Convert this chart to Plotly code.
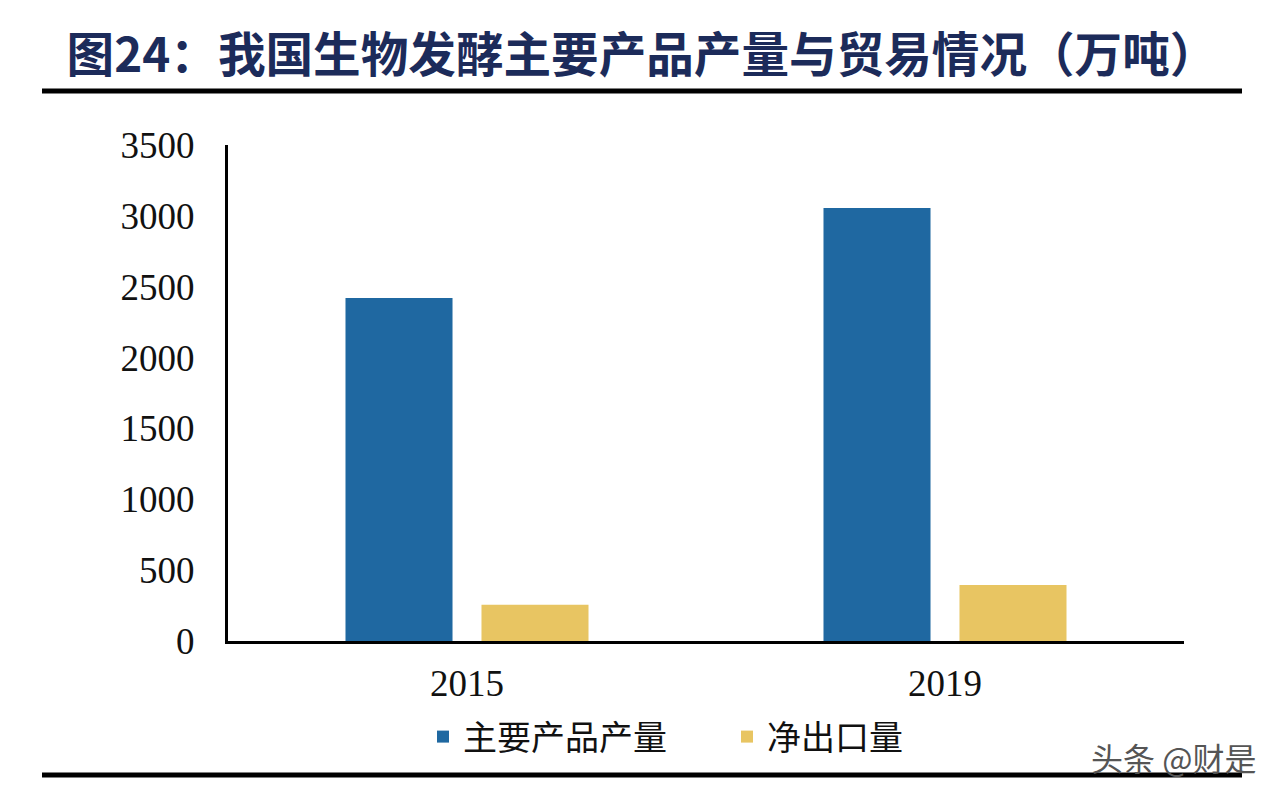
import plotly.graph_objects as go

# data
years = ['2015', '2019']
output_main = [2420, 3055]   # 主要产品产量
net_export = [255, 395]      # 净出口量
y_ticks = [0, 500, 1000, 1500, 2000, 2500, 3000, 3500]

title_txt = '图24：我国生物发酵主要产品产量与贸易情况（万吨）'

W, H = 1284, 800
OFF = 8   # page body margin in the browser
L, R, T, B = 228 - OFF, 100 + OFF, 145 - OFF, 159 + OFF
pw = W - L - R
ph = H - T - B

# helpers: page pixel -> paper coords
def px_x(x):
    return (x - OFF - L) / pw

def px_y(y):
    return (H - B - (y - OFF)) / ph

fig = go.Figure()
fig.add_trace(go.Bar(x=years, y=output_main, name='主要产品产量',
                     marker=dict(color='#1F68A1', line=dict(width=0))))
fig.add_trace(go.Bar(x=years, y=net_export, name='净出口量',
                     marker=dict(color='#E8C562', line=dict(width=0))))

fig.update_layout(
    width=W, height=H,
    margin=dict(l=L, r=R, t=T, b=B),
    paper_bgcolor='white', plot_bgcolor='white',
    barmode='group', bargap=0.431, bargroupgap=0.213,
    font=dict(family='Liberation Serif', size=37, color='#111111'),
    title=dict(text=title_txt, xref='container', yref='container',
               x=(642 - OFF) / W, y=1 - (55 - OFF) / H, xanchor='center', yanchor='middle',
               font=dict(family='Noto Sans CJK SC', size=47.6, color='#1C2B5A', weight='bold')),
    legend=dict(orientation='h', x=px_x(423), y=px_y(737), xanchor='left', yanchor='middle',
                font=dict(family='Noto Sans CJK SC', size=34, color='#111111'),
                entrywidth=259, entrywidthmode='pixels', itemwidth=30,
                bgcolor='rgba(0,0,0,0)'),
    showlegend=True,
)

fig.update_xaxes(showline=True, linecolor='black', linewidth=3, showgrid=False,
                 ticks='outside', ticklen=8, tickcolor='rgba(0,0,0,0)',
                 tickfont=dict(family='Liberation Serif', size=37))
fig.update_yaxes(range=[0, 3500], tickvals=y_ticks, tickformat='d',
                 showline=True, linecolor='black', linewidth=3, showgrid=False,
                 zeroline=False, ticks='outside', ticklen=23, tickcolor='rgba(0,0,0,0)',
                 tickfont=dict(family='Liberation Serif', size=37))

# rules above and below the chart
for yy in (91, 775):
    fig.add_shape(type='line', xref='paper', yref='paper',
                  x0=px_x(42), x1=px_x(1242), y0=px_y(yy), y1=px_y(yy),
                  line=dict(color='black', width=5))

# watermark
fig.add_annotation(text='头条 @财是', xref='paper', yref='paper',
                   x=px_x(1258), y=px_y(757), xanchor='right', yanchor='middle',
                   showarrow=False,
                   font=dict(family='Noto Sans CJK SC', size=32, color='#555555'))

fig.write_html('out.html')
